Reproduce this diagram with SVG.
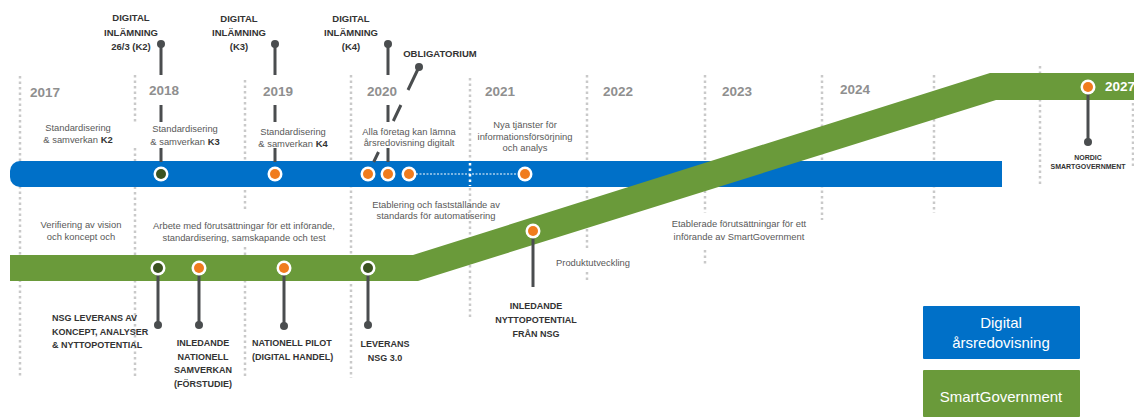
<svg xmlns="http://www.w3.org/2000/svg" xmlns:xlink="http://www.w3.org/1999/xlink" width="1134" height="417" viewBox="0 0 1134 417">
<style>
.dot{stroke:#c9c9c9;stroke-width:2.5;stroke-dasharray:2.5 3;fill:none}
.wdot{stroke:#ffffff;stroke-width:2.5;stroke-dasharray:2.5 3;fill:none}
.stem{stroke:#4a4d4f;stroke-width:3;fill:none}
.knob{fill:#4a4d4f}
.ring{fill:#ffffff}
.o{fill:#f07c1e}
.dg{fill:#3b5320}
.yr{font-family:"Liberation Sans",Arial,sans-serif;font-weight:bold;font-size:13.5px;fill:#8f8f8f}
.ms{font-family:"Liberation Sans",Arial,sans-serif;font-weight:bold;font-size:9.5px;fill:#333333;text-anchor:middle}
.bl{font-family:"Liberation Sans",Arial,sans-serif;font-weight:bold;font-size:9px;fill:#333333}
.tiny{font-family:"Liberation Sans",Arial,sans-serif;font-weight:bold;font-size:7px;fill:#333333;text-anchor:middle}
.sm{font-family:"Liberation Sans",Arial,sans-serif;font-size:9.4px;fill:#595959;text-anchor:middle}
.lg{font-family:"Liberation Sans",Arial,sans-serif;font-size:15px;fill:#ffffff;text-anchor:middle}
</style>
<defs>
<g id="mo"><circle r="7.5" class="ring"/><circle r="5" class="o"/></g>
<g id="mg"><circle r="7.5" class="ring"/><circle r="5" class="dg"/></g>
</defs>
<rect width="1134" height="417" fill="#ffffff"/>
<g id="gridlines">
<path class="dot" d="M20,76V378"/>
<path class="dot" d="M135,75V122M135,148V378"/>
<path class="dot" d="M245,80V210M245,247V378"/>
<path class="dot" d="M351,75V378"/>
<path class="dot" d="M470,78V320"/>
<path class="dot" d="M587,75V248M587,272V280"/>
<path class="dot" d="M705,75V213M705,250V265"/>
<path class="dot" d="M822,75V220"/>
<path class="dot" d="M934,75V213"/>
<path class="dot" d="M1040,66V185"/>
<path class="dot" d="M1133,103V167"/>
</g>
<g id="years">
<text class="yr" x="30" y="97">2017</text>
<text class="yr" x="149" y="95">2018</text>
<text class="yr" x="263" y="96">2019</text>
<text class="yr" x="367" y="96">2020</text>
<text class="yr" x="485" y="96">2021</text>
<text class="yr" x="603" y="96">2022</text>
<text class="yr" x="722" y="96">2023</text>
<text class="yr" x="840" y="94">2024</text>
</g>
<g id="bar-digital">
<path d="M20,161H1002V187H20A10,10 0 0 1 10,177V171A10,10 0 0 1 20,161Z" fill="#0070c8"/>
<path class="wdot" d="M470,163V186"/>
<path d="M416,174H517" stroke="#ffffff" stroke-width="1" stroke-dasharray="2 1.5"/>
</g>
<g id="band-smartgov">
<path d="M10,255H413L990,73H1134V100H996L418,281H10Z" fill="#6a9a3a"/>
</g>
<g id="connectors">
<path class="stem" d="M161,44V75M161,105V122M161,148V162"/>
<path class="stem" d="M275,44V75M275,105V122M275,148V162"/>
<path class="stem" d="M388,44V75M388,105V122M388,148V162"/>
<path class="stem" d="M419,67L408,90M400.9,105L393.3,121M378.5,152L373.7,162"/>
<path class="stem" d="M158,268V325"/>
<path class="stem" d="M199,268V325"/>
<path class="stem" d="M284,268V326"/>
<path class="stem" d="M368,268V325"/>
<path class="stem" d="M533,231V287"/>
<path class="stem" d="M1088,87V142"/>
<circle class="knob" cx="161" cy="44" r="4"/>
<circle class="knob" cx="275" cy="44" r="4"/>
<circle class="knob" cx="388" cy="44" r="4"/>
<circle class="knob" cx="419" cy="67" r="4"/>
<circle class="knob" cx="158" cy="325" r="4"/>
<circle class="knob" cx="199" cy="325" r="4"/>
<circle class="knob" cx="284" cy="326" r="4"/>
<circle class="knob" cx="368" cy="325" r="4"/>
<circle class="knob" cx="1088" cy="142" r="4"/>
</g>
<g id="m-k2">
<text class="ms"><tspan x="131" y="21">DIGITAL</tspan><tspan x="131" y="36">INLÄMNING</tspan><tspan x="131" y="50">26/3 (K2)</tspan></text>
<use xlink:href="#mg" x="161" y="174"/>
</g>
<g id="m-k3">
<text class="ms"><tspan x="239" y="22">DIGITAL</tspan><tspan x="239" y="36">INLÄMNING</tspan><tspan x="239" y="50">(K3)</tspan></text>
<use xlink:href="#mo" x="275" y="174"/>
</g>
<g id="m-k4">
<text class="ms"><tspan x="351" y="22">DIGITAL</tspan><tspan x="351" y="36">INLÄMNING</tspan><tspan x="351" y="50">(K4)</tspan></text>
<use xlink:href="#mo" x="388" y="174"/>
</g>
<g id="m-oblig">
<text class="ms" x="440" y="57">OBLIGATORIUM</text>
<use xlink:href="#mo" x="368" y="174"/>
</g>
<g id="m-2020c"><use xlink:href="#mo" x="409" y="174"/></g>
<g id="m-2021"><use xlink:href="#mo" x="525" y="174"/></g>
<g id="t-k2"><text class="sm"><tspan x="78" y="131">Standardisering</tspan><tspan x="78" y="143">&amp; samverkan <tspan font-weight="bold" fill="#333">K2</tspan></tspan></text></g>
<g id="t-k3"><text class="sm"><tspan x="185" y="132">Standardisering</tspan><tspan x="185" y="145">&amp; samverkan <tspan font-weight="bold" fill="#333">K3</tspan></tspan></text></g>
<g id="t-k4"><text class="sm"><tspan x="293" y="135">Standardisering</tspan><tspan x="293" y="147">&amp; samverkan <tspan font-weight="bold" fill="#333">K4</tspan></tspan></text></g>
<g id="t-alla"><text class="sm"><tspan x="409" y="135">Alla företag kan lämna</tspan><tspan x="409" y="146">årsredovisning digitalt</tspan></text></g>
<g id="t-nya"><text class="sm"><tspan x="525" y="128">Nya tjänster för</tspan><tspan x="525" y="140">informationsförsörjning</tspan><tspan x="525" y="151">och analys</tspan></text></g>
<g id="t-verif"><text class="sm"><tspan x="81" y="228">Verifiering av vision</tspan><tspan x="81" y="240">och koncept och</tspan></text></g>
<g id="t-arbete"><text class="sm"><tspan x="244" y="229">Arbete med förutsättningar för ett införande,</tspan><tspan x="244" y="241">standardisering, samskapande och test</tspan></text></g>
<g id="t-etabl"><text class="sm"><tspan x="436" y="208">Etablering och fastställande av</tspan><tspan x="436" y="219">standards för automatisering</tspan></text></g>
<g id="t-prod"><text class="sm" x="593" y="266">Produktutveckling</text></g>
<g id="t-etablerade"><text class="sm"><tspan x="739" y="227">Etablerade förutsättningar för ett</tspan><tspan x="739" y="240">införande av SmartGovernment</tspan></text></g>
<g id="m-nsg">
<use xlink:href="#mg" x="158" y="268"/>
<text class="bl"><tspan x="52" y="321">NSG LEVERANS AV</tspan><tspan x="52" y="335">KONCEPT, ANALYSER</tspan><tspan x="52" y="348">&amp; NYTTOPOTENTIAL</tspan></text>
</g>
<g id="m-samverkan">
<use xlink:href="#mo" x="199" y="268"/>
<text class="bl" text-anchor="middle"><tspan x="203" y="346">INLEDANDE</tspan><tspan x="203" y="360">NATIONELL</tspan><tspan x="203" y="373">SAMVERKAN</tspan><tspan x="203" y="387">(FÖRSTUDIE)</tspan></text>
</g>
<g id="m-pilot">
<use xlink:href="#mo" x="284" y="268"/>
<text class="bl"><tspan x="252" y="346">NATIONELL PILOT</tspan><tspan x="252" y="360">(DIGITAL HANDEL)</tspan></text>
</g>
<g id="m-nsg3">
<use xlink:href="#mg" x="368" y="268"/>
<text class="bl" text-anchor="middle"><tspan x="385" y="347">LEVERANS</tspan><tspan x="385" y="361">NSG 3.0</tspan></text>
</g>
<g id="m-nytto">
<use xlink:href="#mo" x="533" y="231"/>
<text class="bl" text-anchor="middle"><tspan x="536" y="309">INLEDANDE</tspan><tspan x="536" y="323">NYTTOPOTENTIAL</tspan><tspan x="536" y="337">FRÅN NSG</tspan></text>
</g>
<g id="m-nordic">
<use xlink:href="#mo" x="1088" y="87"/>
<text class="yr" x="1105" y="91" style="fill:#ffffff">2027</text>
<text class="tiny"><tspan x="1088" y="160">NORDIC</tspan><tspan x="1088" y="169">SMARTGOVERNMENT</tspan></text>
</g>
<g id="legend-digital">
<rect x="923" y="306" width="157" height="53" rx="1" fill="#0070c8"/>
<text class="lg"><tspan x="1001" y="328">Digital</tspan><tspan x="1001" y="348">årsredovisning</tspan></text>
</g>
<g id="legend-smartgov">
<rect x="923" y="370" width="157" height="47" rx="1" fill="#6a9a3a"/>
<text class="lg" x="1001" y="402">SmartGovernment</text>
</g>
</svg>
